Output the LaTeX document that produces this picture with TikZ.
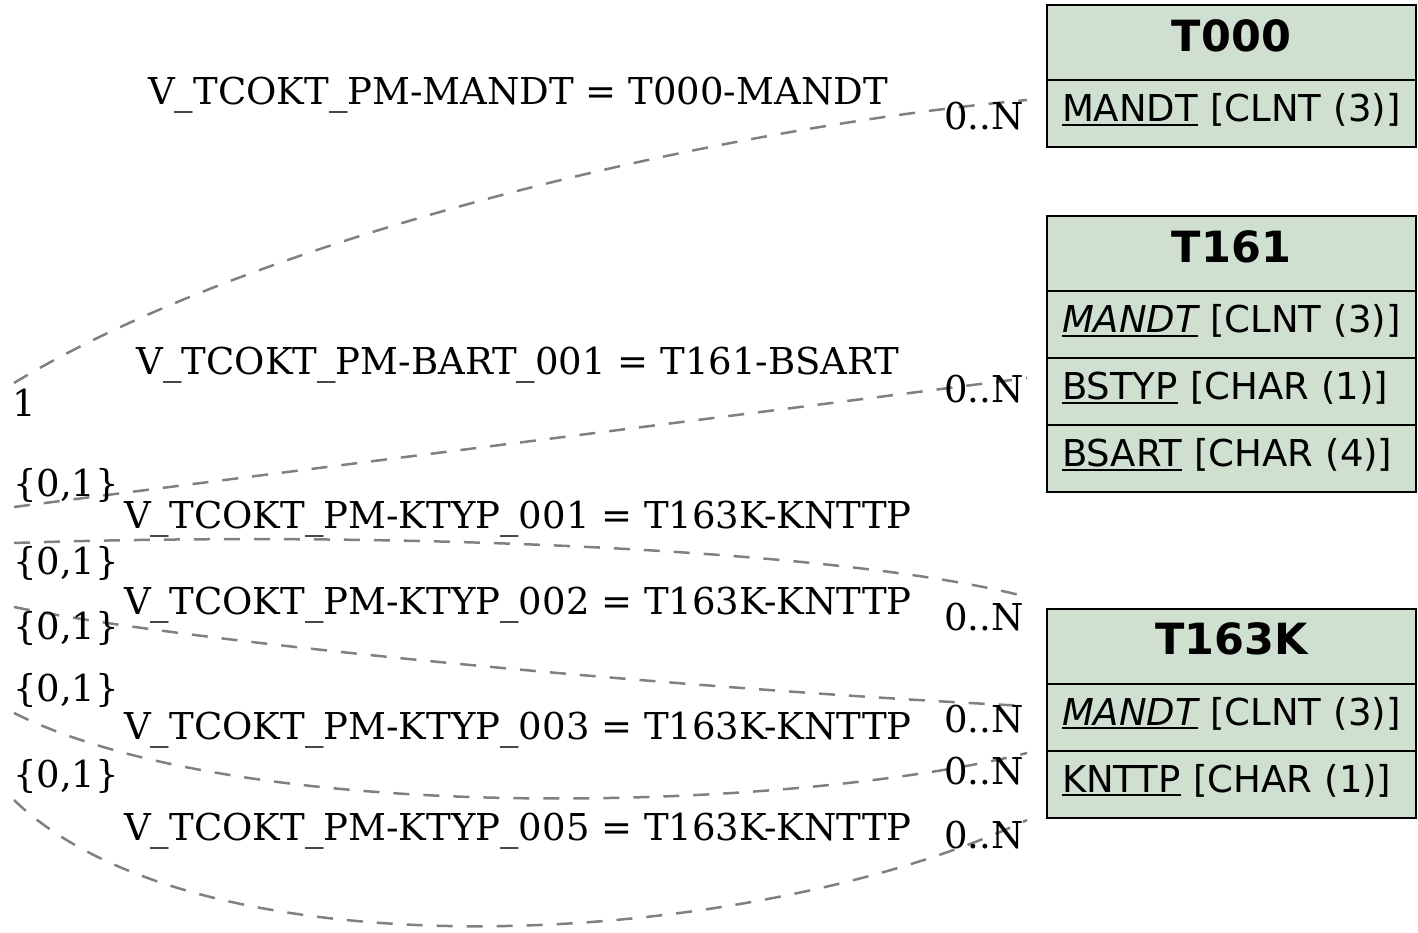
\documentclass[tikz,border=0pt]{standalone}
\usepackage{fontspec}
\setmainfont{DejaVu Serif}
\newfontfamily\tabfont{DejaVu Sans}
\usetikzlibrary{positioning}

\definecolor{tabgreen}{HTML}{D0E0D0}
\newcommand{\keyfield}[1]{\setbox0\hbox{#1}\rlap{\rule[-4pt]{\wd0}{2pt}}\box0\relax}

\tikzset{
  relation/.style={draw=gray, line width=2.5pt, dash pattern=on 16pt off 14pt},
  tabhead/.style={draw, line width=2pt, fill=tabgreen, outer sep=0pt, inner sep=0pt,
    minimum width=369pt, minimum height=75pt, text depth=14pt,
    font=\tabfont\fontsize{43}{50}\selectfont\bfseries},
  tabrow/.style={draw, line width=2pt, fill=tabgreen, outer sep=0pt, inner ysep=0pt,
    inner xsep=15pt, text width=339pt, align=left, minimum height=67pt, text depth=12pt,
    font=\tabfont\fontsize{37}{43}\selectfont},
  rellabel/.style={font=\fontsize{37}{43}\selectfont, inner sep=0pt},
}

\begin{document}
\begin{tikzpicture}[x=1pt, y=-1pt]
  \useasboundingbox (0,0) rectangle (1418,933);

  % tables
  \node[tabhead] (t000) at (1231.5,42.5) {T000};
  \node[tabrow, below=0pt of t000] (t000-1) {\keyfield{MANDT} [CLNT (3)]};

  \node[tabhead] (t161) at (1231.5,253.5) {T161};
  \node[tabrow, below=0pt of t161] (t161-1) {\keyfield{\itshape MANDT} [CLNT (3)]};
  \node[tabrow, below=0pt of t161-1] (t161-2) {\keyfield{BSTYP} [CHAR (1)]};
  \node[tabrow, below=0pt of t161-2] (t161-3) {\keyfield{BSART} [CHAR (4)]};

  \node[tabhead] (t163k) at (1231.5,646) {T163K};
  \node[tabrow, below=0pt of t163k] (t163k-1) {\keyfield{\itshape MANDT} [CLNT (3)]};
  \node[tabrow, below=0pt of t163k-1] (t163k-2) {\keyfield{KNTTP} [CHAR (1)]};

  % connector ends
  \coordinate (s1) at (14,383);  \coordinate (e1) at (1027,100);
  \coordinate (s2) at (14,507);  \coordinate (e2) at (1027,378);
  \coordinate (s3) at (14,543);  \coordinate (e3) at (1027,597);
  \coordinate (s4) at (14,607);  \coordinate (e4) at (1027,706);
  \coordinate (s5) at (14,713);  \coordinate (e5) at (1027,753);
  \coordinate (s6) at (14,800);  \coordinate (e6) at (1027,820);

  \draw[relation] (s1) .. controls (250,240) and (700,130) .. (e1);
  \draw[relation] (s2) .. controls (300,470) and (700,420) .. (e2);
  \draw[relation] (s3) .. controls (400,530) and (850,550) .. (e3);
  \draw[relation] (s4) .. controls (200,645) and (700,690) .. (e4);
  \draw[relation] (s5) .. controls (250,830) and (800,810) .. (e5);
  \draw[relation] (s6) .. controls (200,980) and (750,950) .. (e6);

  % labels
  \node[rellabel] (l1) at (518,95)  {V\_TCOKT\_PM-MANDT = T000-MANDT};
  \node[rellabel] (l2) at (518,365) {V\_TCOKT\_PM-BART\_001 = T161-BSART};
  \node[rellabel] (l3) at (518,519) {V\_TCOKT\_PM-KTYP\_001 = T163K-KNTTP};
  \node[rellabel] (l4) at (518,605) {V\_TCOKT\_PM-KTYP\_002 = T163K-KNTTP};
  \node[rellabel] (l5) at (518,730) {V\_TCOKT\_PM-KTYP\_003 = T163K-KNTTP};
  \node[rellabel] (l6) at (518,831) {V\_TCOKT\_PM-KTYP\_005 = T163K-KNTTP};

  \node[rellabel] (c1) at (24,403) {1};
  \node[rellabel] (c2) at (66,485) {\{0,1\}};
  \node[rellabel] (c3) at (66,563) {\{0,1\}};
  \node[rellabel] (c4) at (66,628) {\{0,1\}};
  \node[rellabel] (c5) at (66,690) {\{0,1\}};
  \node[rellabel] (c6) at (66,776) {\{0,1\}};

  \node[rellabel] (n1) at (984,116) {0..N};
  \node[rellabel] (n2) at (984,389) {0..N};
  \node[rellabel] (n3) at (984,617) {0..N};
  \node[rellabel] (n4) at (984,719) {0..N};
  \node[rellabel] (n5) at (984,771) {0..N};
  \node[rellabel] (n6) at (984,835) {0..N};
\end{tikzpicture}
\end{document}
